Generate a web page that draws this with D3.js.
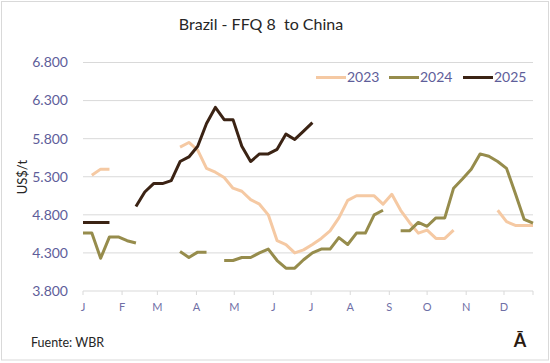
<!DOCTYPE html>
<html>
<head>
<meta charset="utf-8">
<script src="https://cdn.jsdelivr.net/npm/d3@7"></script>
<style>
  body { margin: 0; background: #fff; }
  svg text { font-family: Lato, "Open Sans", sans-serif; }
</style>
</head>
<body>
<svg id="chart" width="550" height="363"></svg>
<script>
// weekly prices, week 0..51, null = no quote
const years = ['2023', '2024', '2025'];
const colors = {'2023': '#f5c9a3', '2024': '#968c4c', '2025': '#3b2314'};

const s2023 = [null, 5.32, 5.40, 5.40, null, null, null, null, null, null, null,
  5.69, 5.75, 5.65, 5.41, 5.36, 5.29, 5.15, 5.11, 5.00, 4.94,
  4.80, 4.46, 4.41, 4.30, 4.34, 4.41, 4.49, 4.59, 4.76, 4.99,
  5.05, 5.05, 5.05, 4.94, 5.07, 4.86, 4.70, 4.56, 4.60, 4.49,
  4.49, 4.60, null, null, null, null, 4.86, 4.71, 4.66, 4.66, 4.66];
const s2024 = [4.56, 4.56, 4.23, 4.51, 4.51, 4.46, 4.43, null, null, null, null,
  4.32, 4.24, 4.31, 4.31, null, 4.20, 4.20, 4.24, 4.24, 4.30,
  4.35, 4.20, 4.10, 4.10, 4.21, 4.30, 4.35, 4.35, 4.50, 4.41,
  4.56, 4.56, 4.80, 4.86, null, 4.59, 4.59, 4.70, 4.65, 4.76,
  4.76, 5.15, 5.27, 5.40, 5.60, 5.57, 5.50, 5.41, 5.08, 4.74, 4.69];
const s2025 = [4.70, 4.70, 4.70, 4.70, null, null, 4.91, 5.10, 5.21, 5.21, 5.25,
  5.50, 5.56, 5.70, 6.00, 6.21, 6.05, 6.05, 5.70, 5.50, 5.60,
  5.60, 5.66, 5.86, 5.79, 5.90, 6.01];

const yTicks = [3.8, 4.3, 4.8, 5.3, 5.8, 6.3, 6.8];
const yLabels = ['3.800', '4.300', '4.800', '5.300', '5.800', '6.300', '6.800'];
const monthDays = [0, 31, 59, 90, 120, 151, 181, 212, 243, 273, 304, 334];
const monthLabels = ['J', 'F', 'M', 'A', 'M', 'J', 'J', 'A', 'S', 'O', 'N', 'D'];

const series = {'2023': s2023, '2024': s2024, '2025': s2025};

const svg = d3.select('#chart');

// outer frame
svg.append('rect')
  .attr('x', 1.5).attr('y', 1.5)
  .attr('width', 547).attr('height', 358.5)
  .attr('fill', '#fff')
  .attr('stroke', '#d9d9d9');

const x = d3.scaleLinear().domain([0, 51]).range([83, 533]);
const y = d3.scaleLinear().domain([3.8, 6.8]).range([291, 62.5]);

// gridlines
svg.append('g').selectAll('line')
  .data(yTicks)
  .enter().append('line')
    .attr('x1', 83).attr('x2', 533)
    .attr('y1', d => y(d)).attr('y2', d => y(d))
    .attr('stroke', '#d9d9d9')
    .attr('stroke-width', 1);

// y labels
svg.append('g').selectAll('text')
  .data(yTicks)
  .enter().append('text')
    .attr('x', 68)
    .attr('y', d => y(d))
    .attr('dy', '0.35em')
    .attr('text-anchor', 'end')
    .attr('font-size', 14)
    .attr('fill', '#5e5e9a')
    .text((d, i) => yLabels[i]);

// x axis: month ticks at week = day/7
const tickPos = monthDays.map(d => d / 7).concat([51]);
svg.append('g').selectAll('line')
  .data(tickPos)
  .enter().append('line')
    .attr('x1', d => x(d)).attr('x2', d => x(d))
    .attr('y1', 291).attr('y2', 295)
    .attr('stroke', '#d9d9d9');

svg.append('g').selectAll('text')
  .data(monthDays)
  .enter().append('text')
    .attr('x', d => x(d / 7))
    .attr('y', 311)
    .attr('text-anchor', 'middle')
    .attr('font-size', 11)
    .attr('fill', '#6f6fa6')
    .text((d, i) => monthLabels[i]);

// lines
const line = d3.line()
  .defined(d => d != null)
  .x((d, i) => x(i))
  .y(d => y(d));

for (let yr of years) {
  svg.append('path')
    .datum(series[yr])
    .attr('fill', 'none')
    .attr('stroke', colors[yr])
    .attr('stroke-width', 3)
    .attr('stroke-linejoin', 'round')
    .attr('d', line);
}

// title
svg.append('text')
  .attr('x', 261).attr('y', 30)
  .attr('text-anchor', 'middle')
  .attr('font-size', 16)
  .attr('fill', '#262626')
  .text('Brazil - FFQ 8\u00a0 to China');

// y title
svg.append('text')
  .attr('transform', 'translate(27,177) rotate(-90)')
  .attr('text-anchor', 'middle')
  .attr('font-size', 13)
  .attr('fill', '#262626')
  .text('US$/t');

// legend
const legendX = [316, 389, 463];
years.forEach(function(yr, i) {
  let lx = legendX[i];
  svg.append('line')
    .attr('x1', lx).attr('x2', lx + 30)
    .attr('y1', 77.5).attr('y2', 77.5)
    .attr('stroke', colors[yr])
    .attr('stroke-width', 3);
  svg.append('text')
    .attr('x', lx + 31).attr('y', 77.5)
    .attr('dy', '0.35em')
    .attr('font-size', 14)
    .attr('fill', '#5e5e9a')
    .text(yr);
});

// footer
svg.append('text')
  .attr('x', 31).attr('y', 347)
  .attr('font-size', 12.5)
  .attr('fill', '#262626')
  .text('Fuente: WBR');

svg.append('text')
  .attr('x', 520).attr('y', 347)
  .attr('text-anchor', 'middle')
  .attr('font-size', 18)
  .attr('font-weight', 'bold')
  .attr('fill', '#2a1a10')
  .text('\u0100');
</script>
</body>
</html>
